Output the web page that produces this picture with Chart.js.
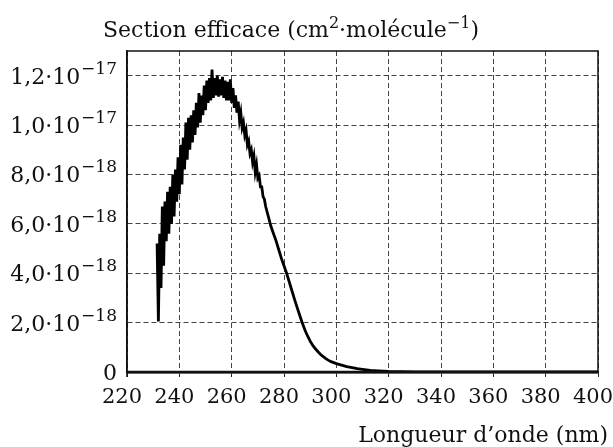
<!DOCTYPE html>
<html>
<head>
<meta charset="utf-8">
<script src="https://cdn.jsdelivr.net/npm/chart.js@4/dist/chart.umd.min.js"></script>
<style>
  html, body { margin: 0; padding: 0; background: #ffffff; }
  #wrap { width: 613px; height: 447px; }
</style>
</head>
<body>
<div id="wrap"><canvas id="c" width="613" height="447"></canvas></div>
<script>
// Wavelengths (nm)
const wavelengths = [
  231.5, 232, 232.5, 233, 233.5, 234, 234.5, 235, 235.5, 236, 236.5, 237, 237.5, 238, 238.5, 239, 239.5, 240,
  240.5, 241, 241.5, 242, 242.5, 243, 243.5, 244, 244.5, 245, 245.5, 246, 246.5, 247, 247.5, 248, 248.5, 249,
  249.5, 250, 250.5, 251, 251.5, 252, 252.5, 253, 253.5, 254, 254.5, 255, 255.5, 256, 256.5, 257, 257.5, 258,
  258.5, 259, 259.5, 260, 260.5, 261, 261.5, 262, 262.5, 263, 263.5, 264, 264.5, 265, 265.5, 266, 266.5, 267,
  267.5, 268, 268.5, 269, 269.5, 270, 270.5, 271, 271.5, 272, 272.5, 273, 273.5, 274,
  275, 276, 277, 278, 279, 280, 281, 282, 283, 284, 285, 286, 287, 288, 289, 290, 291, 292, 293, 294, 295,
  296, 297, 298, 299, 300, 302, 304, 306, 308, 310, 313, 316, 320, 325, 330, 340, 350, 360, 380, 400
];
// Cross-section values, in units of 1e-18 cm^2·molecule^-1
const crossSection = [
  5.2, 2.05, 5.6, 3.4, 6.7, 4.3, 6.9, 5.3, 7.3, 5.6, 7.5, 6.0, 8.0, 6.3, 8.2, 6.9, 8.7, 7.2,
  9.2, 7.6, 9.5, 8.2, 10.1, 8.6, 10.3, 9.0, 10.4, 9.3, 10.6, 9.6, 10.9, 9.9, 11.3, 10.1, 11.2, 10.4,
  11.6, 10.6, 11.8, 10.9, 11.9, 11.0, 12.25, 11.1, 11.9, 11.2, 12.0, 11.15, 11.85, 11.2, 11.95, 11.1, 11.8, 11.0,
  11.75, 11.0, 11.85, 10.9, 11.5, 10.7, 11.2, 10.5, 10.95, 10.2, 10.5, 9.9, 10.1, 9.6, 9.8, 9.2, 9.35, 8.85,
  9.0, 8.5, 8.75, 8.1, 8.4, 7.85, 7.95, 7.5, 7.5, 7.1, 7.0, 6.7, 6.5, 6.3,
  5.9, 5.6, 5.3, 4.95, 4.6, 4.3, 4.0, 3.65, 3.3, 2.95, 2.62, 2.3, 1.98, 1.7, 1.46, 1.25, 1.08, 0.94, 0.82, 0.71, 0.62,
  0.54, 0.47, 0.42, 0.38, 0.34, 0.28, 0.22, 0.18, 0.14, 0.11, 0.07, 0.045, 0.02, 0.01, 0.005, 0.002, 0.001, 0, 0, 0
];
// Y ticks (units of 1e-18) and their labels (mantissa + exponent)
const yTickValues = [0, 2, 4, 6, 8, 10, 12];
const yTickMantissas = ['0', '2,0·10', '4,0·10', '6,0·10', '8,0·10', '1,0·10', '1,2·10'];
const yTickExponents = ['', '−18', '−18', '−18', '−18', '−17', '−17'];
const xTickLabels = ['220', '240', '260', '280', '300', '320', '340', '360', '380', '400'];
const yTitleParts = [['Section efficace (cm', false], ['2', true], ['·molécule', false], ['−1', true], [')', false]];
const xTitle = 'Longueur d’onde (nm)';

const FONT = '"DejaVu Serif", "Liberation Serif", serif';
const points = wavelengths.map((w, i) => ({ x: w, y: crossSection[i] }));

const textPlugin = {
  id: 'textPlugin',
  afterDraw(chart) {
    const ctx = chart.ctx;
    const ca = chart.chartArea;
    const ys = chart.scales.y;
    ctx.save();
    // frame
    ctx.strokeStyle = '#111';
    ctx.lineWidth = 1.5;
    ctx.beginPath();
    ctx.moveTo(ca.left, ca.bottom + 5);
    ctx.lineTo(ca.left, ca.top);
    ctx.lineTo(ca.right, ca.top);
    ctx.lineTo(ca.right, ca.bottom);
    ctx.stroke();
    ctx.lineWidth = 2.5;
    ctx.beginPath();
    ctx.moveTo(ca.left, ca.bottom);
    ctx.lineTo(ca.right, ca.bottom);
    ctx.stroke();

    ctx.fillStyle = '#111';
    ctx.textBaseline = 'alphabetic';
    // y tick labels
    const rightEdge = ca.left - 10;
    yTickValues.forEach((v, i) => {
      const py = ys.getPixelForValue(v);
      const base = py + 8;
      ctx.font = '17px ' + FONT;
      const ew = yTickExponents[i] ? ctx.measureText(yTickExponents[i]).width : 0;
      if (yTickExponents[i]) {
        ctx.textAlign = 'left';
        ctx.fillText(yTickExponents[i], rightEdge - ew, base - 10);
      }
      ctx.font = '22px ' + FONT;
      ctx.textAlign = 'right';
      ctx.fillText(yTickMantissas[i], rightEdge - ew - (ew ? 1 : 0), base);
    });
    // y title
    let x = 103;
    ctx.textAlign = 'left';
    yTitleParts.forEach(([t, sup]) => {
      ctx.font = (sup ? '16px ' : '22px ') + FONT;
      ctx.fillText(t, x, sup ? 28 : 37);
      x += ctx.measureText(t).width;
    });
    // x title
    ctx.font = '22px ' + FONT;
    ctx.textAlign = 'right';
    ctx.fillText(xTitle, 608, 442);
    ctx.restore();
  }
};

new Chart(document.getElementById('c'), {
  type: 'line',
  data: {
    datasets: [{
      data: points,
      borderColor: '#000',
      borderWidth: 2.8,
      pointRadius: 0,
      tension: 0,
      fill: false
    }]
  },
  options: {
    responsive: false,
    animation: false,
    devicePixelRatio: 1,
    layout: { padding: { top: 51, right: 15, left: 0, bottom: 0 } },
    plugins: { legend: { display: false }, tooltip: { enabled: false }, title: { display: false } },
    scales: {
      x: {
        type: 'linear',
        min: 220, max: 400,
        afterBuildTicks: (s) => { s.ticks = xTickLabels.map(l => ({ value: Number(l) })); },
        afterFit: (s) => { s.height = 75; s.paddingLeft = 0; s.paddingRight = 0; },
        ticks: {
          callback: (v, i) => xTickLabels[i],
          color: '#111',
          font: { family: FONT, size: 21 },
          padding: 8,
          labelOffset: -5,
          maxRotation: 0,
          autoSkip: false
        },
        grid: { color: '#444', lineWidth: 1, drawTicks: true, tickLength: 5, tickColor: '#222' },
        border: { display: true, color: '#111', width: 2.5, dash: [5, 3] }
      },
      y: {
        type: 'linear',
        min: 0, max: 13,
        afterBuildTicks: (s) => { s.ticks = yTickValues.map(v => ({ value: v })); },
        afterFit: (s) => { s.width = 127; },
        ticks: { display: false },
        grid: { color: '#444', lineWidth: 1, drawTicks: false },
        border: { display: true, color: '#111', width: 1.5, dash: [5, 3] }
      }
    }
  },
  plugins: [textPlugin]
});
</script>
</body>
</html>
